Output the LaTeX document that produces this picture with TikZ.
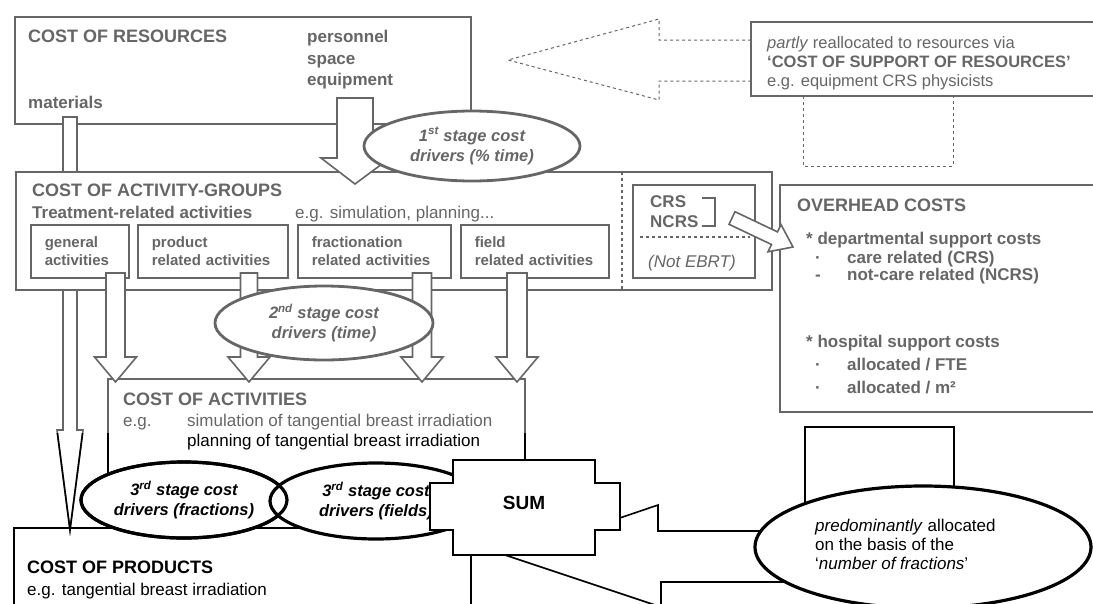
\documentclass[tikz,border=0pt]{standalone}
\usepackage{fontspec}
\setmainfont{Liberation Sans}
\usetikzlibrary{shapes.geometric}
\definecolor{inkgray}{gray}{0.4}

\tikzset{
  lw/.style={line width=1.6pt},
  box/.style={draw=inkgray, lw, fill=white},
  boxdark/.style={draw=black, lw, fill=white},
  hollow/.style={draw=inkgray, lw, fill=white, line join=miter},
  hollowdark/.style={draw=black, lw, fill=white, line join=miter},
  txt/.style={inner sep=0pt, anchor=base west, text=inkgray, font=\fontsize{17}{20}\selectfont},
  txtdark/.style={txt, text=black},
  head/.style={txt, font=\fontsize{18}{21}\selectfont\bfseries},
  bold/.style={txt, font=\fontsize{17}{20}\selectfont\bfseries},
  subbox/.style={draw=inkgray, lw, fill=white, anchor=north west, minimum height=53pt,
    inner xsep=14pt, inner ysep=0pt, align=left, text=inkgray,
    font=\fontsize{15}{17.5}\selectfont\bfseries},
  drv/.style={ellipse, draw=inkgray, line width=2.8pt, fill=white, inner sep=0pt,
    align=center, text=inkgray, font=\fontsize{16.5}{20}\selectfont\bfseries\itshape},
  drvdark/.style={drv, draw=black, text=black, line width=3.2pt},
}

\begin{document}
\begin{tikzpicture}[x=1pt, y=-1pt]
\useasboundingbox (0,0) rectangle (1093,603);
\clip (0,0) rectangle (1093,603);

% cost of resources
\draw[box] (15,17) rectangle (471,124);
\node[head] (resttl) at (28,42) {COST OF RESOURCES};
\node[bold, anchor=north west, align=left, font=\fontsize{17}{21.5}\selectfont\bfseries] (reslist) at (307,30) {personnel\\space\\equipment};
\node[bold] (mattxt) at (28,108) {materials};

% cost of products and cost of activities
\draw[boxdark] (14,528) rectangle (471,620);
\draw[box] (108,379) rectangle (525,495);
\draw[hollow] (63,117) -- (77,117) -- (77,430) -- (83,430) -- (70,530) -- (57,430) -- (63,430) -- cycle;
\begin{scope}
  \clip (0,433) rectangle (1093,603);
  \draw[black, lw, line join=miter] (63,117) -- (77,117) -- (77,430) -- (83,430) -- (70,530) -- (57,430) -- (63,430) -- cycle;
  \draw[black, lw] (108,379) rectangle (525,495);
\end{scope}

% cost of activity-groups
\draw[box] (16,172) rectangle (772,290);
\draw[inkgray, lw, dashed] (622,172) -- (622,290);
\node[head] (grpttl) at (32,196) {COST OF ACTIVITY-GROUPS};
\node[bold] (trttl) at (32,218) {Treatment-related activities};
\node[txt] (egsim) at (295,218) {e.g. simulation, planning...};
\node[subbox, text width=70pt] (general) at (30,224) {general\\activities};
\node[subbox, text width=122pt] (product) at (137,224) {product\\related activities};
\node[subbox, text width=125pt] (fraction) at (297,224) {fractionation\\related activities};
\node[subbox, text width=120pt] (field) at (460,224) {field\\related activities};

% not EBRT part
\draw[box] (633,185) rectangle (755,278);
\node[bold, anchor=north west, align=left] (crs) at (650,195) {CRS\\NCRS};
\draw[inkgray, lw] (702,198) -- (715,198) -- (715,226) -- (702,226);
\draw[inkgray, lw, dashed] (640,237) -- (750,237);
\node[txt, font=\fontsize{17}{20}\selectfont\itshape] (notebrt) at (648,267) {(Not EBRT)};

% 1st stage
\draw[hollow] (337,98) -- (373,98) -- (373,158) -- (390,158) -- (355,184) -- (321,158) -- (337,158) -- cycle;
\node[drv, minimum width=216pt, minimum height=70pt] (drvone) at (472,146) {1\textsuperscript{st} stage cost\\drivers (\% time)};

% 2nd stage
\foreach \cx/\w in {115.5/9.5, 249/8.5, 422/9.5, 517/10} {
  \draw[hollow] ({\cx-\w},273) -- ({\cx-\w},357) -- ({\cx-21},357) -- (\cx,382)
    -- ({\cx+21},357) -- ({\cx+\w},357) -- ({\cx+\w},273) -- cycle;
}
\node[drv, minimum width=218pt, minimum height=74pt] (drvtwo) at (324,323) {2\textsuperscript{nd} stage cost\\drivers (time)};

\node[head] (actttl) at (123,405) {COST OF ACTIVITIES};
\node[txt] (acteg) at (123,426) {e.g.};
\node[txt] (actsim) at (187,426) {simulation of tangential breast irradiation};
\node[txtdark] (actplan) at (187,446) {planning of tangential breast irradiation};

% overhead costs
\draw[box] (780,185) rectangle (1100,412);
\node[head] (ohttl) at (797,211) {OVERHEAD COSTS};
\node[bold] (dept) at (806,244) {* departmental support costs};
\node[bold] (crsrel) at (847,263) {care related (CRS)};
\node[bold] (ncrsrel) at (847,280) {not-care related (NCRS)};
\node[bold] (hosp) at (806,347) {* hospital support costs};
\node[bold] (fte) at (847,370) {allocated / FTE};
\node[bold] (sqm) at (847,393) {allocated / m²};
\foreach \y/\b in {263/·, 280/-, 370/·, 393/·}
  \node[bold, anchor=base] (dot\y) at (818,\y) {\b};
\draw[hollow] (735,211.7) -- (777.5,231.9) -- (781,224.6) -- (793,247) -- (768,251.8) -- (771.5,244.5) -- (729,224.3) -- cycle;

% cost of support of resources
\draw[box] (751,22) rectangle (1100,96);
\node[txt, anchor=north west, align=left, font=\fontsize{16.5}{19}\selectfont] (supp) at (767,36)
  {\textit{partly} reallocated to resources via\\\textbf{`COST OF SUPPORT OF RESOURCES'}\\e.g. equipment CRS physicists};
\draw[inkgray, line width=1pt, dashed] (751,40) -- (659,40) -- (659,19) -- (508,60) -- (659,100) -- (659,81) -- (751,81);
\draw[inkgray, line width=1pt, dashed] (803,96) -- (803,166) -- (953,166) -- (953,96);

% allocation to products
\draw[hollowdark] (508,556) -- (658,505) -- (658,531) -- (790,531) -- (790,582) -- (661,582) -- (661,607) -- cycle;
\draw[boxdark] (805,427) rectangle (954,520);
\node[drvdark, minimum width=336pt, minimum height=122pt] (basis) at (923,547) {};
\node[txtdark, anchor=north west, align=left, font=\fontsize{17}{19}\selectfont] (basistxt) at (815,519)
  {\textit{predominantly} allocated\\on the basis of the\\`\textit{number of fractions}'};

% 3rd stage
\node[drvdark, minimum width=206pt, minimum height=76pt] (drvfrac) at (184,500) {3\textsuperscript{rd} stage cost\\drivers (fractions)};
\node[drvdark, minimum width=212pt, minimum height=76pt] (drvfield) at (376,501) {3\textsuperscript{rd} stage cost\\drivers (fields)};
\draw[black, line width=3.2pt] (drvfrac.center) ellipse [x radius=103, y radius=38];

\draw[hollowdark] (453,460) -- (595,460) -- (595,483) -- (620,483) -- (620,530) -- (595,530)
  -- (595,555) -- (453,555) -- (453,530) -- (430,530) -- (430,483) -- (453,483) -- cycle;
\node[txtdark, anchor=center, font=\fontsize{19}{22}\selectfont\bfseries] (sum) at (524,503) {SUM};

\node[head, text=black] (prodttl) at (27,573) {COST OF PRODUCTS};
\node[txtdark] (prodeg) at (27,595) {e.g. tangential breast irradiation};
\end{tikzpicture}
\end{document}
